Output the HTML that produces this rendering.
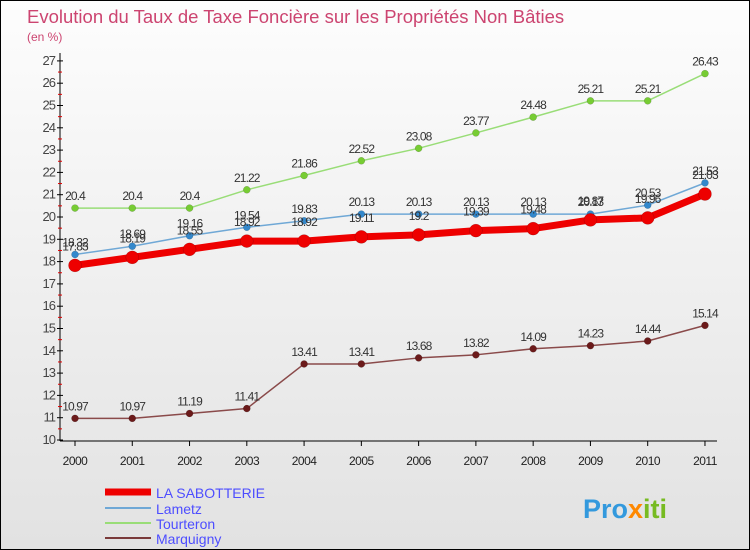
<!DOCTYPE html>
<html><head><meta charset="utf-8"><style>
body{margin:0}
#c{width:750px;height:550px;position:relative;box-sizing:border-box;border:1px solid #000;background:linear-gradient(#fdfdfd,#e2e2e2);font-family:"Liberation Sans",sans-serif;overflow:hidden}
</style></head><body>
<div id="c">
<svg id="s" width="748" height="548" xmlns="http://www.w3.org/2000/svg">
<text x="26" y="22" font-size="18.5" fill="#cc4470">Evolution du Taux de Taxe Foncière sur les Propriétés Non Bâties</text>
<text x="26" y="40" font-size="12" fill="#cc4470">(en %)</text>
<g id="axes"></g><g id="series"></g>
<g>
<line x1="104" y1="491" x2="150" y2="491" stroke="#ee0000" stroke-width="7"/>
<text x="155" y="497" font-size="14" fill="#4d4dff">LA SABOTTERIE</text>
<line x1="104" y1="507" x2="150" y2="507" stroke="#6fa8d6" stroke-width="2"/>
<text x="155" y="513" font-size="14" fill="#4d4dff">Lametz</text>
<line x1="104" y1="522" x2="150" y2="522" stroke="#99dd77" stroke-width="2"/>
<text x="155" y="528" font-size="14" fill="#4d4dff">Tourteron</text>
<line x1="104" y1="537" x2="150" y2="537" stroke="#7a3a3a" stroke-width="2"/>
<text x="155" y="543" font-size="14" fill="#4d4dff">Marquigny</text>
</g>
<text x="582" y="517" font-size="27" font-weight="bold" fill="#3399dd">Pro<tspan fill="#ff8800">x</tspan><tspan fill="#77bb22">iti</tspan></text>
</svg></div>
<script>
const years=[2000,2001,2002,2003,2004,2005,2006,2007,2008,2009,2010,2011];
const yTicks=[10,11,12,13,14,15,16,17,18,19,20,21,22,23,24,25,26,27];
const sabotterie=[17.83,18.19,18.55,18.92,18.92,19.11,19.2,19.39,19.48,19.87,19.96,21.03];
const lametz=[18.32,18.69,19.16,19.54,19.83,20.13,20.13,20.13,20.13,20.13,20.53,21.53];
const tourteron=[20.4,20.4,20.4,21.22,21.86,22.52,23.08,23.77,24.48,25.21,25.21,26.43];
const marquigny=[10.97,10.97,11.19,11.41,13.41,13.41,13.68,13.82,14.09,14.23,14.44,15.14];
const NS="http://www.w3.org/2000/svg";
const X=i=>74+i*57.27, Y=v=>439-(v-10)*22.3;
function mk(t,a,p){const e=document.createElementNS(NS,t);for(const k in a)e.setAttribute(k,a[k]);p.appendChild(e);return e;}
const ax=document.getElementById('axes');
let l=mk('line',{x1:59,y1:52,x2:59,y2:440,stroke:'#000'},ax);

l=mk('line',{x1:59,y1:440,x2:716,y2:440,stroke:'#000'},ax);

yTicks.forEach(v=>{mk('line',{x1:56,y1:Y(v),x2:62,y2:Y(v),stroke:'#000'},ax);
 if(v<27)mk('line',{x1:57,y1:Y(v+0.5),x2:61,y2:Y(v+0.5),stroke:'#d00'},ax);
 const t=mk('text',{x:54,y:Y(v)+4,'font-size':13,fill:'#444','text-anchor':'end','letter-spacing':'-1'},ax);t.textContent=v;
 });
years.forEach((y,i)=>{mk('line',{x1:X(i),y1:440,x2:X(i),y2:445,stroke:'#000'},ax);
 const t=mk('text',{x:X(i),y:464,'font-size':12,fill:'#222','text-anchor':'middle','letter-spacing':'-0.5'},ax);t.textContent=y;
 });
const sg=document.getElementById('series');
function draw(d,name,col,w,r,dot,dy){
 const g=mk('g',{},sg);
 const p=mk('polyline',{points:d.map((v,i)=>X(i)+','+Y(v)).join(' '),fill:'none',stroke:col,'stroke-width':w,'stroke-linejoin':'round'},g);
 
 d.forEach((v,i)=>{const c=mk('circle',{cx:X(i),cy:Y(v),r:r,fill:dot,stroke:'rgba(0,0,0,0.25)','stroke-width':0.5},g);
  
  const t=mk('text',{x:X(i),y:Y(v)+dy,'font-size':12,fill:'#333','text-anchor':'middle','letter-spacing':'-0.9'},g);t.textContent=v;
  });
}
draw(marquigny,'marquigny','#8a4a4a',1.5,3.5,'#6b1a1a',-8);
draw(tourteron,'tourteron','#99dd77',1.5,3.5,'#77cc33',-8);
draw(lametz,'lametz','#6fa8d6',1.5,3.5,'#3388cc',-8);
draw(sabotterie,'la-sabotterie','#ee0000',7,6.5,'#ee0000',-15);
</script>
</body></html>
